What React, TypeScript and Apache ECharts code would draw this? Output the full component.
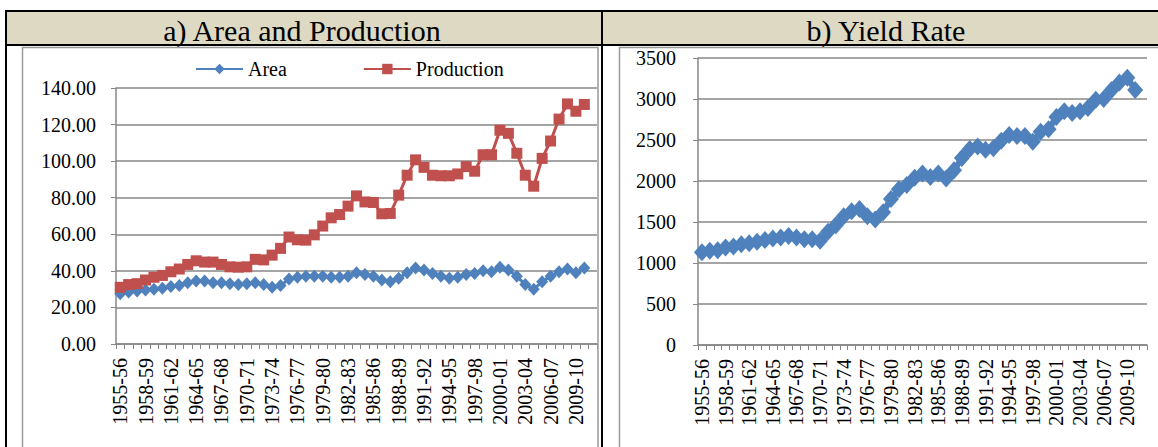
import React, { useEffect, useRef } from "react";
import * as echarts from "echarts";

const categories = [
  "1955-56", "1956-57", "1957-58", "1958-59", "1959-60", "1960-61", "1961-62", "1962-63",
  "1963-64", "1964-65", "1965-66", "1966-67", "1967-68", "1968-69", "1969-70", "1970-71",
  "1971-72", "1972-73", "1973-74", "1974-75", "1975-76", "1976-77", "1977-78", "1978-79",
  "1979-80", "1980-81", "1981-82", "1982-83", "1983-84", "1984-85", "1985-86", "1986-87",
  "1987-88", "1988-89", "1989-90", "1990-91", "1991-92", "1992-93", "1993-94", "1994-95",
  "1995-96", "1996-97", "1997-98", "1998-99", "1999-00", "2000-01", "2001-02", "2002-03",
  "2003-04", "2004-05", "2005-06", "2006-07", "2007-08", "2008-09", "2009-10", "2010-11",
  "2011-12",
];

const area = [
  27.5, 28.5, 29, 29.5, 30, 30.5, 31.5, 32, 33.5, 34.5, 34.5, 33.5, 33.5, 33, 32.5, 33,
  33.5, 32.5, 31, 32, 35.5, 36.5, 37, 37, 37, 36.5, 36.5, 37, 39, 38, 37, 35, 34, 36, 39,
  41.5, 40.5, 38.5, 37, 36, 36.5, 38, 38.5, 40, 39.5, 42, 40.5, 37, 32.5, 30, 34, 37, 39.5,
  41, 39, 41.5,
];

const production = [
  31, 32.5, 33, 35, 36.5, 37.5, 39.5, 41, 43.5, 45.5, 44.8, 44.8, 43.5, 42.2, 42, 42.2,
  46.3, 46, 48.6, 52.3, 58.5, 57, 56.8, 59.7, 64.5, 69, 70.8, 75.4, 81, 77.7, 77.4, 71.2,
  71.4, 81.4, 92.3, 100.7, 96.6, 92.3, 92, 92, 93, 97, 94.5, 103.5, 103.5, 116.9, 115.2,
  104.3, 92.3, 86.3, 101.5, 111, 123, 131.3, 127.3, 131,
];

const yieldRate = [
  1130, 1150, 1155, 1190, 1200, 1230, 1240, 1260, 1280, 1300, 1310, 1330, 1310, 1290, 1290,
  1270, 1380, 1460, 1570, 1630, 1660, 1570, 1530, 1620, 1780, 1900, 1950, 2040, 2090, 2050,
  2090, 2030, 2130, 2280, 2390, 2420, 2380, 2400, 2490, 2560, 2550, 2550, 2480, 2600, 2630,
  2780, 2850, 2830, 2850, 2890, 2990, 3000, 3110, 3200, 3260, 3110,
];

const titles = ["a) Area and Production", "b) Yield Rate"];

const FONT = "'Liberation Serif', 'Times New Roman', serif";
const GRID_COLOR = "#878787";

export default function App() {
  const ref = useRef<HTMLDivElement>(null);

  useEffect(() => {
    if (!ref.current) return;
    const chart = echarts.init(ref.current, null, { renderer: "svg" });

    const xAxisBase = (gridIndex: number) => ({
      type: "category",
      gridIndex,
      data: categories,
      boundaryGap: true,
      axisLine: { show: true, lineStyle: { color: GRID_COLOR, width: 1.5 } },
      axisTick: { show: true, interval: 0, length: 5, lineStyle: { color: GRID_COLOR } },
      axisLabel: {
        interval: 2,
        rotate: 90,
        fontSize: 20,
        fontFamily: FONT,
        color: "#000",
        margin: 14,
      },
      splitLine: { show: false },
    });

    const option: any = {
      animation: false,
      textStyle: { fontFamily: FONT },
      graphic: [
        { type: "rect", z: 0, shape: { x: 6, y: 12, width: 596, height: 32 }, style: { fill: "#DDD9C3" } },
        { type: "rect", z: 0, shape: { x: 603, y: 12, width: 560, height: 32 }, style: { fill: "#DDD9C3" } },
        { type: "line", z: 1, shape: { x1: 5, y1: 11, x2: 1160, y2: 11 }, style: { stroke: "#000", lineWidth: 2 } },
        { type: "line", z: 1, shape: { x1: 5, y1: 45, x2: 1160, y2: 45 }, style: { stroke: "#000", lineWidth: 2 } },
        { type: "line", z: 1, shape: { x1: 6, y1: 10, x2: 6, y2: 450 }, style: { stroke: "#000", lineWidth: 2 } },
        { type: "line", z: 1, shape: { x1: 602, y1: 10, x2: 602, y2: 450 }, style: { stroke: "#000", lineWidth: 2 } },
        { type: "rect", z: 1, shape: { x: 22.5, y: 47.5, width: 575.5, height: 420 }, style: { fill: "none", stroke: "#9a9a9a", lineWidth: 1.5 } },
        { type: "rect", z: 1, shape: { x: 619.5, y: 47.5, width: 560, height: 420 }, style: { fill: "none", stroke: "#9a9a9a", lineWidth: 1.5 } },
        {
          type: "text", z: 2, x: 302, y: 30,
          style: { text: titles[0], fontSize: 30, fontFamily: FONT, fill: "#000", align: "center", verticalAlign: "middle" },
        },
        {
          type: "text", z: 2, x: 886, y: 30,
          style: { text: titles[1], fontSize: 30, fontFamily: FONT, fill: "#000", align: "center", verticalAlign: "middle" },
        },
      ],
      legend: {
        data: ["Area", "Production"],
        left: 190,
        top: 54,
        itemWidth: 47,
        itemHeight: 13,
        itemGap: 76,
        textStyle: { fontSize: 20, fontFamily: FONT, color: "#000" },
      },
      grid: [
        { left: 116, right: 561, top: 88, bottom: 103 },
        { left: 698, right: 11, top: 58, bottom: 102 },
      ],
      xAxis: [xAxisBase(0), xAxisBase(1)],
      yAxis: [
        {
          type: "value",
          gridIndex: 0,
          min: 0,
          max: 140,
          interval: 20,
          axisLine: { show: true, lineStyle: { color: GRID_COLOR, width: 1.5 } },
          axisTick: { show: true, length: 5, lineStyle: { color: GRID_COLOR } },
          splitLine: { show: true, lineStyle: { color: GRID_COLOR, width: 1.5 } },
          axisLabel: {
            formatter: (v: number) => v.toFixed(2),
            fontSize: 20,
            fontFamily: FONT,
            color: "#000",
            margin: 20,
          },
        },
        {
          type: "value",
          gridIndex: 1,
          min: 0,
          max: 3500,
          interval: 500,
          axisLine: { show: true, lineStyle: { color: GRID_COLOR, width: 1.5 } },
          axisTick: { show: true, length: 5, lineStyle: { color: GRID_COLOR } },
          splitLine: { show: true, lineStyle: { color: GRID_COLOR, width: 1.5 } },
          axisLabel: {
            formatter: (v: number) => String(v),
            fontSize: 20,
            fontFamily: FONT,
            color: "#000",
            margin: 22,
          },
        },
      ],
      series: [
        {
          name: "Area",
          type: "line",
          xAxisIndex: 0,
          yAxisIndex: 0,
          data: area,
          symbol: "diamond",
          symbolSize: [12, 13],
          showSymbol: true,
          showAllSymbol: true,
          lineStyle: { color: "#4F81BD", width: 3 },
          itemStyle: { color: "#4F81BD" },
        },
        {
          name: "Production",
          type: "line",
          xAxisIndex: 0,
          yAxisIndex: 0,
          data: production,
          symbol: "rect",
          symbolSize: 11,
          showSymbol: true,
          showAllSymbol: true,
          lineStyle: { color: "#C0504D", width: 3 },
          itemStyle: { color: "#C0504D" },
        },
        {
          name: "Yield Rate",
          type: "line",
          xAxisIndex: 1,
          yAxisIndex: 1,
          data: yieldRate,
          symbol: "diamond",
          symbolSize: [16, 18],
          showSymbol: true,
          showAllSymbol: true,
          lineStyle: { color: "#4F81BD", width: 6 },
          itemStyle: { color: "#4F81BD" },
        },
      ],
    };

    chart.setOption(option);
    return () => chart.dispose();
  }, []);

  return (
    <div
      ref={ref}
      style={{ position: "absolute", left: 0, top: 0, width: 1158, height: 447, background: "#fff" }}
    />
  );
}
